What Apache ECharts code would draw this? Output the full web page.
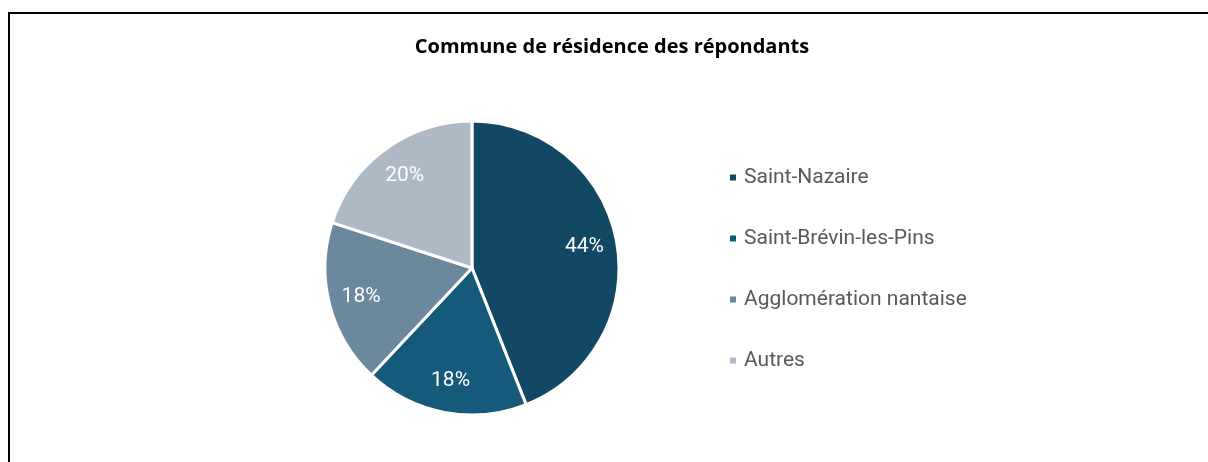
<!DOCTYPE html>
<html>
<head>
<meta charset="utf-8">
<script src="https://cdn.jsdelivr.net/npm/echarts@6/dist/echarts.min.js"></script>
<style>
  html, body { margin: 0; padding: 0; background: #fff; }
  #chart { width: 1208px; height: 462px; }
</style>
</head>
<body>
<div id="chart"></div>
<script>
// --- Data ---
const titleText = 'Commune de résidence des répondants';
const communes = ['Saint-Nazaire', 'Saint-Brévin-les-Pins', 'Agglomération nantaise', 'Autres'];
const shares = [44, 18, 18, 20];
const sliceColors = ['#124863', '#155a7a', '#6b889d', '#adb9c4'];

const chart = echarts.init(document.getElementById('chart'));

const pieData = communes.map((name, i) => ({
    name: name,
    value: shares[i],
    itemStyle: { color: sliceColors[i] }
}));

const option = {
    animation: false,
    title: {
        text: titleText,
        left: 612,
        top: 37,
        padding: 0,
        textAlign: 'center',
        textStyle: {
            fontFamily: 'Open Sans',
            fontWeight: 'bold',
            fontSize: 20,
            color: '#000'
        }
    },
    legend: {
        orient: 'vertical',
        left: 728,
        top: 167,
        padding: 0,
        itemWidth: 8,
        itemHeight: 8,
        itemGap: 40,
        icon: 'rect',
        data: communes,
        selectedMode: false,
        textStyle: {
            fontFamily: 'Roboto',
            fontSize: 21,
            lineHeight: 20,
            color: '#595959',
            padding: [0, 0, 0, 2]
        }
    },
    graphic: [{
        type: 'polyline',
        shape: { points: [[9, 462], [9, 13], [1208, 13]] },
        style: { stroke: '#000', lineWidth: 2, fill: null }
    }],
    series: [
        {
            // visible slices
            type: 'pie',
            center: [472, 268],
            radius: [0, 147],
            startAngle: 90,
            clockwise: true,
            data: pieData,
            label: { show: false },
            labelLine: { show: false },
            itemStyle: { borderColor: '#fff', borderWidth: 3 },
            emphasis: { disabled: true }
        },
        {
            // transparent ring carrying the percentage labels
            type: 'pie',
            center: [472, 268],
            radius: [76, 147],
            startAngle: 90,
            clockwise: true,
            silent: true,
            data: communes.map((name, i) => ({ name: name, value: shares[i] })),
            itemStyle: { color: 'rgba(0,0,0,0)' },
            label: {
                show: true,
                position: 'inside',
                formatter: p => p.value + '%',
                fontFamily: 'Roboto',
                fontSize: 21,
                color: '#fff'
            },
            labelLine: { show: false },
            emphasis: { disabled: true }
        }
    ]
};

chart.setOption(option);
</script>
</body>
</html>
